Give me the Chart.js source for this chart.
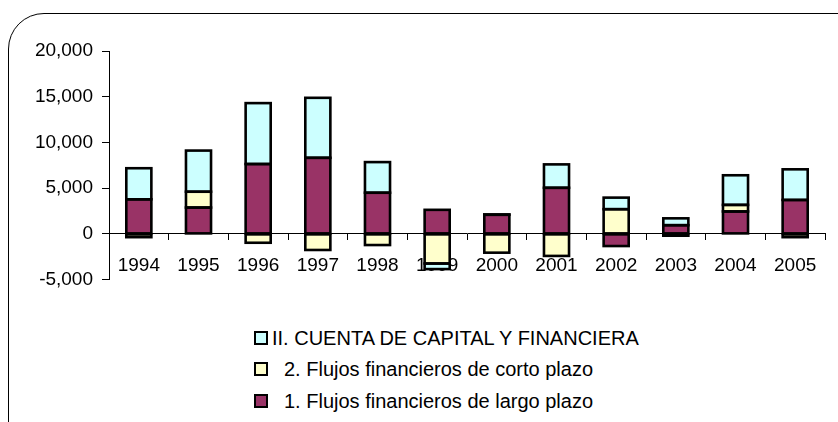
<!DOCTYPE html>
<html><head><meta charset="utf-8">
<script src="https://cdn.jsdelivr.net/npm/chart.js@4.4.0/dist/chart.umd.min.js"></script>
<style>
html,body{margin:0;padding:0;background:#fff;width:838px;height:422px;overflow:hidden;position:relative;font-family:"Liberation Sans",Arial,sans-serif;}
#frame{position:absolute;left:8px;top:13px;width:870px;height:445px;border:1.5px solid #000;border-radius:36px;box-sizing:border-box;}
#c{position:absolute;left:0;top:0;}
#legend{position:absolute;left:254px;top:322px;font-size:20px;color:#000;line-height:22px;}
.row{height:31.5px;display:flex;align-items:center;white-space:pre;}
.sw{width:10px;height:10px;border:2px solid #000;flex:none;}
</style></head>
<body>
<div id="frame"></div>
<canvas id="c" width="838" height="300"></canvas>
<div id="legend"></div>
<script>
const years = ['1994','1995','1996','1997','1998','1999','2000','2001','2002','2003','2004','2005'];
const largoPlazo = [3780, 2880, 7640, 8320, 4500, 2630, 2090, 5040, -1330, 950, 2450, 3710];
const cortoPlazo = [-360, 1730, -970, -1760, -1220, -3240, -2055, -2410, 2700, -200, 720, -360];
const cuentaCapital = [3400, 4500, 6660, 6560, 3350, -610, 40, 2560, 1265, 750, 3240, 3350];
const seriesNames = ['1. Flujos financieros de largo plazo', '2. Flujos financieros de corto plazo', 'II. CUENTA DE CAPITAL Y FINANCIERA'];
const seriesColors = ['#993366', '#FFFFCC', '#CCFFFF'];

const FONT = {family: '"Liberation Sans", Arial, sans-serif', size: 19};
const mk = (i, data) => ({label: seriesNames[i], data, backgroundColor: seriesColors[i], borderWidth: 0, barPercentage: 0.42, categoryPercentage: 1});

// stroke each bar segment outline centred on its edges (like the original)
const outline = {
  id: 'outline',
  afterDatasetsDraw(chart) {
    const ctx = chart.ctx;
    ctx.save();
    ctx.strokeStyle = '#000';
    ctx.lineWidth = 2.6;
    ctx.lineJoin = 'miter';
    chart.data.datasets.forEach((ds, i) => {
      chart.getDatasetMeta(i).data.forEach(el => {
        const p = el.getProps(['x', 'y', 'base', 'width'], true);
        const top = Math.min(p.y, p.base), h = Math.abs(p.base - p.y);
        ctx.strokeRect(p.x - p.width / 2, top, p.width, h);
      });
    });
    ctx.restore();
  }
};

new Chart(document.getElementById('c'), {
  type: 'bar',
  data: {labels: years, datasets: [mk(0, largoPlazo), mk(1, cortoPlazo), mk(2, cuentaCapital)]},
  options: {
    responsive: false, animation: false,
    layout: {padding: {top: 51, right: 13, bottom: 18, left: 0}},
    plugins: {legend: {display: false}, tooltip: {enabled: false}},
    scales: {
      x: {
        stacked: true, position: {y: 0},
        grid: {drawOnChartArea: false, offset: true, tickLength: 6, color: '#000', lineWidth: 1},
        border: {color: '#000', width: 1},
        ticks: {color: '#000', font: FONT, padding: 14, maxRotation: 0, autoSkip: false},
        afterFit: s => { s.height = 0; }
      },
      y: {
        stacked: true, min: -5000, max: 20000,
        grid: {drawOnChartArea: false, tickLength: 7, color: '#000', lineWidth: 1},
        border: {color: '#000', width: 1},
        ticks: {color: '#000', font: FONT, padding: 9, stepSize: 5000, callback: v => v.toLocaleString('en-US')},
        afterFit: s => { s.width = 109; }
      }
    }
  },
  plugins: [outline]
});

const legend = document.getElementById('legend');
const order = [2, 1, 0];
const gaps = [4, 16, 16];
order.forEach((idx, k) => {
  const row = document.createElement('div');
  row.className = 'row';
  const sw = document.createElement('span');
  sw.className = 'sw';
  sw.style.background = seriesColors[idx];
  const t = document.createElement('span');
  t.textContent = seriesNames[idx];
  t.style.marginLeft = gaps[k] + 'px';
  row.appendChild(sw); row.appendChild(t);
  legend.appendChild(row);
});
</script>
</body></html>
